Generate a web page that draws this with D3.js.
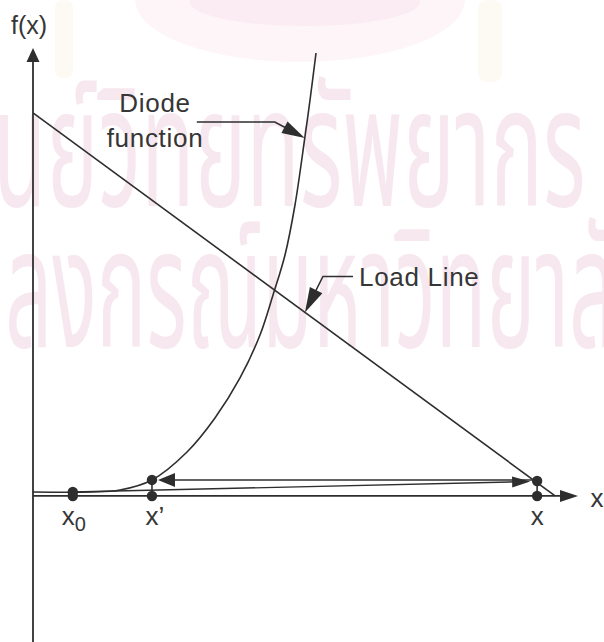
<!DOCTYPE html>
<html>
<head>
<meta charset="utf-8">
<script src="https://cdn.jsdelivr.net/npm/d3@7"></script>
<style>
  html, body { margin: 0; padding: 0; background: #fff; }
  svg { display: block; }
</style>
</head>
<body>
<svg id="chart" width="604" height="642"></svg>
<script>
// Diode function f(x), sampled along the curve
const diodeX = [0, 1.046, 1.596, 2.183, 2.826, 3.339, 3.798, 4.165, 4.404, 4.624, 4.807, 4.987, 5.083, 5.193];
const diodeF = [0.073, 0.073, 0.110, 0.294, 0.807, 1.431, 2.165, 2.954, 3.688, 4.422, 5.339, 6.569, 7.266, 8.128];

// Load line: intercepts on the f(x) and x axes
const loadX = [0, 9.58];
const loadF = [7.03, 0];

// Iteration points x0, x', x and the value of f at each
const pointNames = ["x0", "x'", "x"];
const pointX = [0.73, 2.183, 9.25];
const pointF = [0.073, 0.294, 0.275];

// Annotation labels
const diodeLabel = ["Diode", "function"];
const loadLabel = "Load Line";
const axisLabels = { x: "x", y: "f(x)" };

// Watermark lines
const watermark = ["ศูนย์วิทยทรัพยากร", "จุฬาลงกรณ์มหาวิทยาลัย"];

const W = 604, H = 642;
const svg = d3.select("#chart");
const ink = "#2e2e2e";
const textInk = "#363636";
const font = "'Liberation Sans', Arial, sans-serif";

const x = d3.scaleLinear().domain([0, 10]).range([33, 578]);
const y = d3.scaleLinear().domain([-2.68, 8.22]).range([642, 48]);

// Faint emblem and watermark behind the figure
const bg = svg.append("g");
bg.append("ellipse").attr("cx", 300).attr("cy", 0).attr("rx", 165).attr("ry", 62).attr("fill", "#fdf5f8");
bg.append("ellipse").attr("cx", 305).attr("cy", 2).attr("rx", 115).attr("ry", 24).attr("fill", "#faecf2");
bg.append("rect").attr("x", 55).attr("y", 0).attr("width", 18).attr("height", 78).attr("rx", 8).attr("fill", "#fcfaf3");
bg.append("rect").attr("x", 478).attr("y", 0).attr("width", 24).attr("height", 82).attr("rx", 9).attr("fill", "#fcfaf3");
const wm = bg.append("g").attr("fill", "#f7e8ef").attr("font-weight", 400)
  .attr("font-family", "'Noto Sans Thai', 'DejaVu Sans', sans-serif").attr("font-size", 92);
wm.append("text").attr("transform", "translate(-62,206) scale(0.95,1.8)").text(watermark[0]);
wm.append("text").attr("transform", "translate(-128,347) scale(0.9,1.8)").text(watermark[1]);

// Filled arrowhead with its tip at (tx, ty), pointing along angle a
function arrowHead(g, tx, ty, a, len, hw) {
  const bx = tx - len * Math.cos(a), by = ty - len * Math.sin(a);
  const px = -Math.sin(a) * hw, py = Math.cos(a) * hw;
  g.append("path")
    .attr("d", `M${tx},${ty}L${bx + px},${by + py}L${bx - px},${by - py}Z`)
    .attr("fill", ink);
}

const g = svg.append("g");

// Axes
const x0 = x(0), y0 = y(0);
g.append("line").attr("x1", x0).attr("y1", H).attr("x2", x0).attr("y2", y.range()[1] + 10)
  .attr("stroke", ink).attr("stroke-width", 1.8);
arrowHead(g, x0, y.range()[1], -Math.PI / 2, 14, 6.5);
g.append("line").attr("x1", x0).attr("y1", y0).attr("x2", x.range()[1] - 10).attr("y2", y0)
  .attr("stroke", ink).attr("stroke-width", 1.8);
arrowHead(g, x.range()[1], y0, 0, 18, 6);

// Load line
g.append("line")
  .attr("x1", x(loadX[0])).attr("y1", y(loadF[0]))
  .attr("x2", x(loadX[1])).attr("y2", y(loadF[1]))
  .attr("stroke", ink).attr("stroke-width", 1.6);

// Diode curve
const curve = d3.line().x(d => x(d[0])).y(d => y(d[1])).curve(d3.curveCatmullRom.alpha(0.5));
g.append("path").datum(d3.zip(diodeX, diodeF)).attr("d", curve)
  .attr("fill", "none").attr("stroke", ink).attr("stroke-width", 1.6);

// Step x0 -> x (towards the load line)
const ax1 = x(pointX[0]), ay1 = y(pointF[0]);
const ax2 = x(pointX[2]) - 7, ay2 = y(pointF[2]) + 0.5;
g.append("line").attr("x1", ax1).attr("y1", ay1).attr("x2", ax2 - 10).attr("y2", ay2 + 0.3)
  .attr("stroke", ink).attr("stroke-width", 1.4);
arrowHead(g, ax2, ay2, Math.atan2(ay2 - ay1, ax2 - ax1), 18, 5.5);

// Step x -> x' (back to the diode curve)
const bx1 = x(pointX[2]), bxy = y(pointF[1]);
const bx2 = x(pointX[1]) + 6;
g.append("line").attr("x1", bx1).attr("y1", bxy).attr("x2", bx2 + 10).attr("y2", bxy)
  .attr("stroke", ink).attr("stroke-width", 1.4);
arrowHead(g, bx2, bxy, Math.PI, 17, 7);

// Drop lines from the curve points to the x axis
[1, 2].forEach(i => {
  g.append("line").attr("x1", x(pointX[i])).attr("x2", x(pointX[i]))
    .attr("y1", y(pointF[i])).attr("y2", y0).attr("stroke", ink).attr("stroke-width", 1.6);
});

// Points on the curve / load line and on the axis
pointX.forEach((px, i) => {
  g.append("circle").attr("cx", x(px)).attr("cy", y(pointF[i])).attr("r", 5.2).attr("fill", ink);
  g.append("circle").attr("cx", x(px)).attr("cy", y0).attr("r", 5.2).attr("fill", ink);
});

// Point labels
const lab = g.append("g").attr("fill", textInk).attr("font-family", font).attr("font-size", 26);
const t0 = lab.append("text").attr("x", x(pointX[0]) + 1).attr("y", y0 + 29).attr("text-anchor", "middle");
t0.append("tspan").text("x");
t0.append("tspan").attr("font-size", 20).attr("dy", 6).text("0");
lab.append("text").attr("x", x(pointX[1]) + 3).attr("y", y0 + 29).attr("text-anchor", "middle").text("x’");
lab.append("text").attr("x", x(pointX[2])).attr("y", y0 + 29).attr("text-anchor", "middle").text("x");

// Axis labels
lab.append("text").attr("x", x.range()[1] + 19).attr("y", y0 + 11).attr("text-anchor", "middle").text(axisLabels.x);
lab.append("text").attr("x", 29).attr("y", 34).attr("text-anchor", "middle").attr("font-size", 25).text(axisLabels.y);

// Diode function annotation
const dTip = [x(diodeX[11]), y(diodeF[11])];
g.append("path")
  .attr("d", `M${dTip[0] - 108},${dTip[1] - 16}L${dTip[0] - 30},${dTip[1] - 16}L${dTip[0] - 12},${dTip[1] - 6.5}`)
  .attr("fill", "none").attr("stroke", ink).attr("stroke-width", 1.5);
arrowHead(g, dTip[0], dTip[1], Math.atan2(16, 30), 23, 6.5);
lab.append("text").attr("x", 155).attr("y", 112).attr("text-anchor", "middle").attr("letter-spacing", 0.7).text(diodeLabel[0]);
lab.append("text").attr("x", 155).attr("y", 147).attr("text-anchor", "middle").attr("letter-spacing", 0.7).text(diodeLabel[1]);

// Load line annotation
const lxd = 4.99;
const lTip = [x(lxd), y(loadF[0] + (loadF[1] - loadF[0]) * (lxd - loadX[0]) / (loadX[1] - loadX[0]))];
g.append("path")
  .attr("d", `M${lTip[0] + 48},${lTip[1] - 36}L${lTip[0] + 18},${lTip[1] - 36}L${lTip[0] + 7},${lTip[1] - 14}`)
  .attr("fill", "none").attr("stroke", ink).attr("stroke-width", 1.5);
arrowHead(g, lTip[0], lTip[1], Math.atan2(36, -18), 25, 7);
lab.append("text").attr("x", 359).attr("y", 286).attr("letter-spacing", 0.7).text(loadLabel);
</script>
</body>
</html>
